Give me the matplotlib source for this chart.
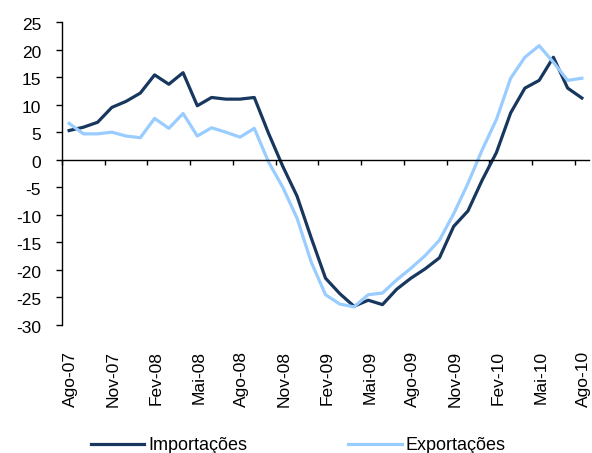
import matplotlib
matplotlib.use("Agg")
import matplotlib.pyplot as plt
import matplotlib.transforms as mtransforms
import numpy as np

# monthly series, Ago-07 .. Ago-10
months = [
    "Ago-07", "Set-07", "Out-07", "Nov-07", "Dez-07", "Jan-08", "Fev-08",
    "Mar-08", "Abr-08", "Mai-08", "Jun-08", "Jul-08", "Ago-08", "Set-08",
    "Out-08", "Nov-08", "Dez-08", "Jan-09", "Fev-09", "Mar-09", "Abr-09",
    "Mai-09", "Jun-09", "Jul-09", "Ago-09", "Set-09", "Out-09", "Nov-09",
    "Dez-09", "Jan-10", "Fev-10", "Mar-10", "Abr-10", "Mai-10", "Jun-10",
    "Jul-10", "Ago-10",
]
importacoes = [
    5.3, 5.9, 6.8, 9.5, 10.6, 12.1, 15.4, 13.7, 15.8, 9.8,
    11.3, 11.0, 11.0, 11.3, 4.8, -1.2, -6.6, -14.2, -21.5, -24.3,
    -26.6, -25.5, -26.3, -23.5, -21.5, -19.8, -17.8, -12.1, -9.3, -3.7,
    1.3, 8.5, 13.0, 14.4, 18.6, 13.0, 11.2,
]
exportacoes = [
    6.6, 4.7, 4.7, 5.0, 4.3, 4.0, 7.5, 5.7, 8.4, 4.3,
    5.8, 5.0, 4.1, 5.7, -0.4, -5.0, -10.6, -18.6, -24.5, -26.2,
    -26.7, -24.5, -24.2, -21.8, -19.7, -17.4, -14.6, -9.8, -4.3, 1.8,
    7.3, 14.8, 18.6, 20.7, 17.7, 14.4, 14.8,
]
label_step = 3
y_ticks = list(range(-30, 30, 5))

dark = "#17375E"
light = "#99CCFF"

plt.rcParams["font.family"] = ["Liberation Sans", "DejaVu Sans"]

fig = plt.figure(figsize=(5.92, 4.53), dpi=100)
ax = fig.add_axes([62 / 592, 1 - 325 / 453, 527 / 592, 303 / 453])

x = np.arange(len(months))
ax.plot(x, importacoes, color=dark, linewidth=2.3, label="Importações")
ax.plot(x, exportacoes, color=light, linewidth=2.3, label="Exportações")

ax.set_xlim(-0.5, len(months) - 0.5)
ax.set_ylim(-30, 25)
ax.set_yticks(y_ticks)
ax.set_yticklabels([str(t) for t in y_ticks])

for side in ["top", "right"]:
    ax.spines[side].set_visible(False)
ax.spines["bottom"].set_position(("data", 0))
ax.spines["bottom"].set_linewidth(1.0)
ax.spines["left"].set_linewidth(1.0)

# tick marks between categories, every 3 months
ax.set_xticks(np.arange(-0.5, len(months) - 1, label_step))
ax.set_xticklabels([])
ax.tick_params(axis="x", direction="out", length=3.6, width=1.0)
ax.tick_params(axis="y", direction="out", length=4, width=1.0,
               labelsize=12.5, pad=11)
down = mtransforms.ScaledTranslation(0, -2 / 100, fig.dpi_scale_trans)
for lbl in ax.get_yticklabels():
    lbl.set_transform(lbl.get_transform() + down)

# category labels below the plot area
trans = mtransforms.blended_transform_factory(ax.transData, ax.transAxes)
shift = mtransforms.ScaledTranslation(1.5 / 100, -26 / 100, fig.dpi_scale_trans)
for i in range(0, len(months), label_step):
    ax.text(i, 0, months[i], rotation=90, ha="center", va="top",
            fontsize=12.5, transform=trans + shift)

fig.legend(
    loc="center left",
    bbox_to_anchor=(91 / 592, 1 - 446 / 453),
    ncol=2,
    frameon=False,
    fontsize=13,
    handlelength=2.95,
    handletextpad=0.22,
    columnspacing=5.6,
    borderpad=0,
    borderaxespad=0,
)

fig.savefig("out.png", dpi=100)
